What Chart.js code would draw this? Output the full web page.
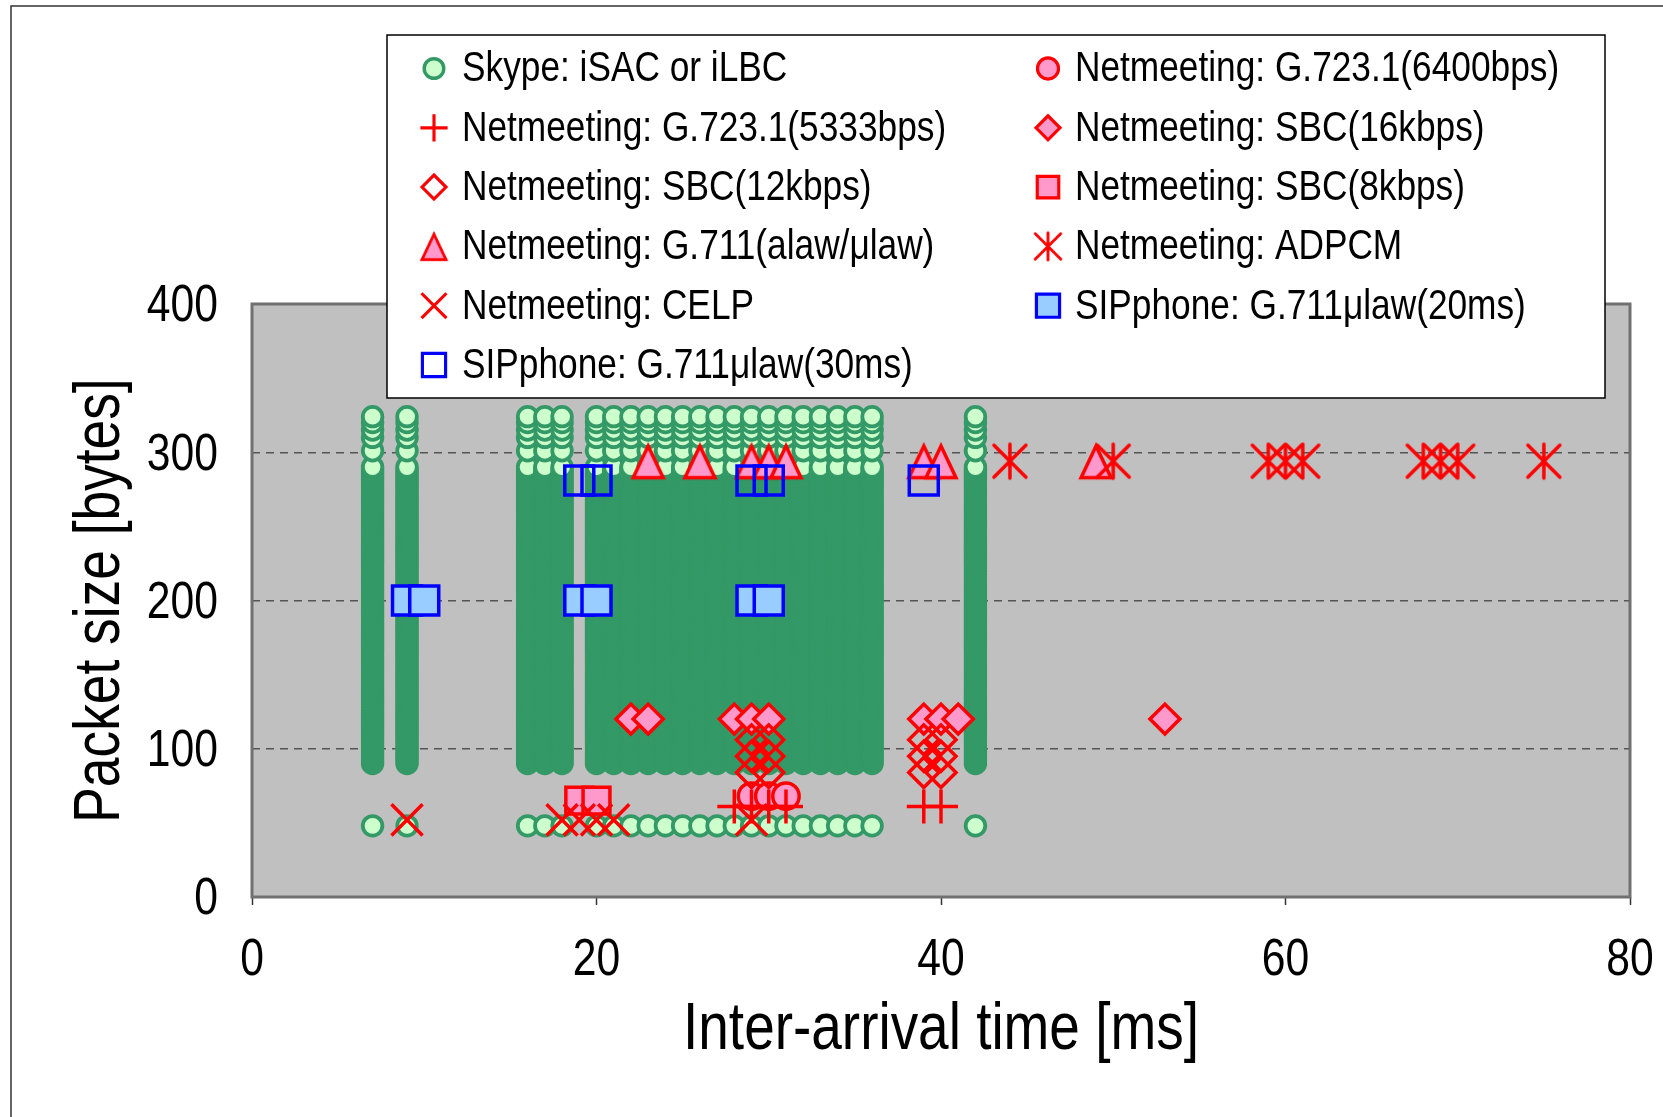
<!DOCTYPE html>
<html lang="en">
<head>
<meta charset="utf-8">
<title>Packet size vs inter-arrival time</title>
<style>
  html, body { margin: 0; padding: 0; background: #fff; }
  canvas { display: block; }
</style>
</head>
<body>
<canvas id="myChart" width="1663" height="1117"></canvas>
<script src="https://cdn.jsdelivr.net/npm/chart.js@4.4.0/dist/chart.umd.min.js"></script>
<script>
// ---- values ----
// Skype: every column time carries a point at every listed size
const skypeTimes = [7, 9, 16, 17, 18, 20, 21, 22, 23, 24, 25, 26, 27, 28, 29, 30, 31, 32, 33, 34, 35, 36, 42];
const skypeSizes = [48,
  90, 92, 94, 96, 98, 100, 102, 104, 106, 108,
  110, 112, 114, 116, 118, 120, 122, 124, 126, 128,
  130, 132, 134, 136, 138, 140, 142, 144, 146, 148,
  150, 152, 154, 156, 158, 160, 162, 164, 166, 168,
  170, 172, 174, 176, 178, 180, 182, 184, 186, 188,
  190, 192, 194, 196, 198, 200, 202, 204, 206, 208,
  210, 212, 214, 216, 218, 220, 222, 224, 226, 228,
  230, 232, 234, 236, 238, 240, 242, 244, 246, 248,
  250, 252, 254, 256, 258, 260, 262, 264, 266, 268,
  270, 272, 274, 276, 278, 280, 282, 284, 286, 288,
  290, 301, 310, 315, 320, 324];

const nm6400X = [29, 30, 31];
const nm6400Y = [68, 68, 68];
const nm5333X = [28, 29, 30, 31, 39, 40];
const nm5333Y = [61, 61, 61, 61, 61, 61];
const sbc16X = [22, 23, 28, 29, 30, 39, 40, 41, 53];
const sbc16Y = [120, 120, 120, 120, 120, 120, 120, 120, 120];
const sbc12X = [29, 30, 29, 30, 29, 30, 39, 40, 39, 40, 39, 40];
const sbc12Y = [106, 106, 95, 95, 84, 84, 106, 106, 95, 95, 84, 84];
const sbc8X = [19, 20];
const sbc8Y = [65, 65];
const g711X = [23, 26, 29, 30, 31, 39, 40, 49];
const g711Y = [294, 294, 294, 294, 294, 294, 294, 294];
const adpcmX = [44, 50, 59, 60, 61, 68, 69, 70, 75];
const adpcmY = [294, 294, 294, 294, 294, 294, 294, 294, 294];
const celpX = [9, 18, 19, 20, 21, 29];
const celpY = [52, 52, 52, 52, 52, 52];
const sip20X = [9, 10, 19, 20, 29, 30];
const sip20Y = [200, 200, 200, 200, 200, 200];
const sip30X = [19, 20, 29, 30, 39];
const sip30Y = [281, 281, 281, 281, 281];

const xTicks = [0, 20, 40, 60, 80];
const yTicks = [0, 100, 200, 300, 400];

// ---- helpers ----
function pts(xs, ys) {
    return xs.map(function (x, i) { return { x: x, y: ys[i] }; });
}

let skypePts = [];
skypeTimes.forEach(function (t) {
    skypeSizes.forEach(function (s) { skypePts.push({ x: t, y: s }); });
});

// excel style triangle, centred on its bounding box
function triangleImage() {
    const c = document.createElement('canvas');
    c.width = 44; c.height = 44;
    const g = c.getContext('2d');
    g.beginPath();
    g.moveTo(22, 22 - 15.2);
    g.lineTo(22 + 15, 22 + 16.6);
    g.lineTo(22 - 15, 22 + 16.6);
    g.closePath();
    g.fillStyle = '#ff99cc';
    g.fill();
    g.lineWidth = 3.5;
    g.strokeStyle = '#ff0000';
    g.stroke();
    return c;
}

// asterisk: vertical bar plus an x
function asteriskImage() {
    const c = document.createElement('canvas');
    c.width = 44; c.height = 44;
    const g = c.getContext('2d');
    g.strokeStyle = '#ff0000';
    g.lineWidth = 3.5;
    g.lineCap = 'round';
    g.beginPath();
    g.moveTo(22, 22 - 17); g.lineTo(22, 22 + 17);
    g.moveTo(22 - 16, 22 - 16); g.lineTo(22 + 16, 22 + 16);
    g.moveTo(22 + 16, 22 - 16); g.lineTo(22 - 16, 22 + 16);
    g.stroke();
    return c;
}

const RED = '#ff0000', PINK = '#ff99cc', NONE = 'rgba(0,0,0,0)';

function series(label, data, style, r, bw, fill, line) {
    return {
        label: label, data: data,
        pointStyle: style, pointRadius: r, pointHoverRadius: r,
        pointBorderWidth: bw, pointHoverBorderWidth: bw,
        pointBackgroundColor: fill, pointBorderColor: line,
        showLine: false
    };
}

const datasets = [
    series('Skype: iSAC or iLBC', skypePts, 'circle', 9.8, 3.8, '#ccffcc', '#339966'),
    series('Netmeeting: G.723.1(6400bps)', pts(nm6400X, nm6400Y), 'circle', 13.2, 3.5, PINK, RED),
    series('Netmeeting: G.723.1(5333bps)', pts(nm5333X, nm5333Y), 'cross', 17, 3.5, RED, RED),
    series('Netmeeting: SBC(16kbps)', pts(sbc16X, sbc16Y), 'rectRot', 15, 3.5, PINK, RED),
    series('Netmeeting: SBC(12kbps)', pts(sbc12X, sbc12Y), 'rectRot', 15, 3.5, NONE, RED),
    series('Netmeeting: SBC(8kbps)', pts(sbc8X, sbc8Y), 'rect', 19, 3.5, PINK, RED),
    series('Netmeeting: G.711(alaw/μlaw)', pts(g711X, g711Y), triangleImage(), 18, 0, PINK, RED),
    series('Netmeeting: ADPCM', pts(adpcmX, adpcmY), asteriskImage(), 18, 0, RED, RED),
    series('Netmeeting: CELP', pts(celpX, celpY), 'crossRot', 22, 3.5, RED, RED),
    series('SIPphone: G.711μlaw(20ms)', pts(sip20X, sip20Y), 'rect', 20.5, 3.5, '#99ccff', '#0000ff'),
    series('SIPphone: G.711μlaw(30ms)', pts(sip30X, sip30Y), 'rect', 20.5, 3.5, NONE, '#0000ff')
];
// later series sit on top, like the original
datasets.forEach(function (d, i) { d.order = datasets.length - i; });

const FONT = "'Liberation Sans', Arial, sans-serif";

// background, plot frame and the boxed legend
const framePlugin = {
    id: 'frame',
    beforeDraw(chart) {
        const ctx = chart.ctx, a = chart.chartArea;
        ctx.save();
        ctx.fillStyle = '#fff';
        ctx.fillRect(0, 0, chart.width, chart.height);
        ctx.strokeStyle = '#333';
        ctx.lineWidth = 1.5;
        ctx.beginPath();
        ctx.moveTo(11, chart.height);
        ctx.lineTo(11, 6);
        ctx.lineTo(chart.width, 6);
        ctx.stroke();
        ctx.fillStyle = '#c0c0c0';
        ctx.fillRect(a.left, a.top, a.right - a.left, a.bottom - a.top);
        ctx.restore();
    },
    beforeDatasetsDraw(chart) {
        const ctx = chart.ctx, a = chart.chartArea;
        ctx.save();
        ctx.strokeStyle = '#707070';
        ctx.lineWidth = 3;
        ctx.strokeRect(a.left, a.top, a.right - a.left, a.bottom - a.top);
        ctx.restore();
    },
    afterDraw(chart) {
        const ctx = chart.ctx;
        ctx.save();
        ctx.fillStyle = '#fff';
        ctx.fillRect(387, 35, 1218, 363);
        ctx.strokeStyle = '#000';
        ctx.lineWidth = 1.5;
        ctx.strokeRect(387, 35, 1218, 363);
        ctx.font = '43px ' + FONT;
        ctx.textBaseline = 'middle';
        chart.data.datasets.forEach(function (d, i) {
            const col = i % 2, row = Math.floor(i / 2);
            const mx = col ? 1048 : 434;
            const my = 68.5 + row * 59.3;
            const k = i === 0 ? 1 : 0.8;
            if (typeof d.pointStyle === 'object') {
                const im = d.pointStyle;
                ctx.drawImage(im, mx - im.width * k / 2, my - im.height * k / 2, im.width * k, im.height * k);
            } else {
                ctx.fillStyle = d.pointBackgroundColor;
                ctx.strokeStyle = d.pointBorderColor;
                ctx.lineWidth = d.pointBorderWidth * 0.9;
                Chart.helpers.drawPoint(ctx, {
                    pointStyle: d.pointStyle, radius: d.pointRadius * k,
                    rotation: 0, borderWidth: d.pointBorderWidth
                }, mx, my);
            }
            ctx.fillStyle = '#000';
            ctx.fillText(d.label, col ? 1075 : 462, my + 1);
        });
        ctx.restore();
    }
};

const ctx = document.getElementById('myChart').getContext('2d');

// the original lettering is a narrow gothic: squeeze every text run horizontally
const NARROW = 0.82;
const nativeFillText = ctx.fillText;
ctx.fillText = function (text, x, y, maxWidth) {
    this.save();
    this.translate(x, y);
    this.scale(NARROW, 1);
    if (maxWidth === undefined) {
        nativeFillText.call(this, text, 0, 0);
    } else {
        nativeFillText.call(this, text, 0, 0, maxWidth / NARROW);
    }
    this.restore();
};

const chart = new Chart(ctx, {
    type: 'scatter',
    data: { datasets: datasets },
    options: {
        responsive: false,
        animation: false,
        devicePixelRatio: 1,
        events: [],
        layout: { padding: { left: 0, top: 304, right: 33, bottom: 0 } },
        plugins: { legend: { display: false }, tooltip: { enabled: false } },
        scales: {
            x: {
                type: 'linear', min: 0, max: 80,
                afterFit: function (s) { s.height = 220; s.paddingLeft = 0; s.paddingRight = 0; },
                afterBuildTicks: function (s) { s.ticks = xTicks.map(function (v) { return { value: v }; }); },
                grid: { display: true, drawOnChartArea: false, drawTicks: true, tickLength: 8, tickColor: '#333', tickWidth: 1.5 },
                border: { display: false },
                ticks: { padding: 24, color: '#000', font: { family: FONT, size: 52 } },
                title: { display: true, text: 'Inter-arrival time [ms]', color: '#000', font: { family: FONT, size: 67 }, padding: { bottom: 46 } }
            },
            y: {
                type: 'linear', min: 0, max: 400,
                afterFit: function (s) { s.width = 252; },
                afterBuildTicks: function (s) { s.ticks = yTicks.map(function (v) { return { value: v }; }); },
                grid: { color: '#555', lineWidth: 1.5, drawTicks: false },
                border: { display: false, dash: [8, 6] },
                ticks: { padding: 34, labelOffset: 3, color: '#000', font: { family: FONT, size: 52 } },
                title: { display: true, text: 'Packet size [bytes]', color: '#000', font: { family: FONT, size: 65 }, padding: { top: 62 } }
            }
        }
    },
    plugins: [framePlugin]
});
</script>
</body>
</html>
